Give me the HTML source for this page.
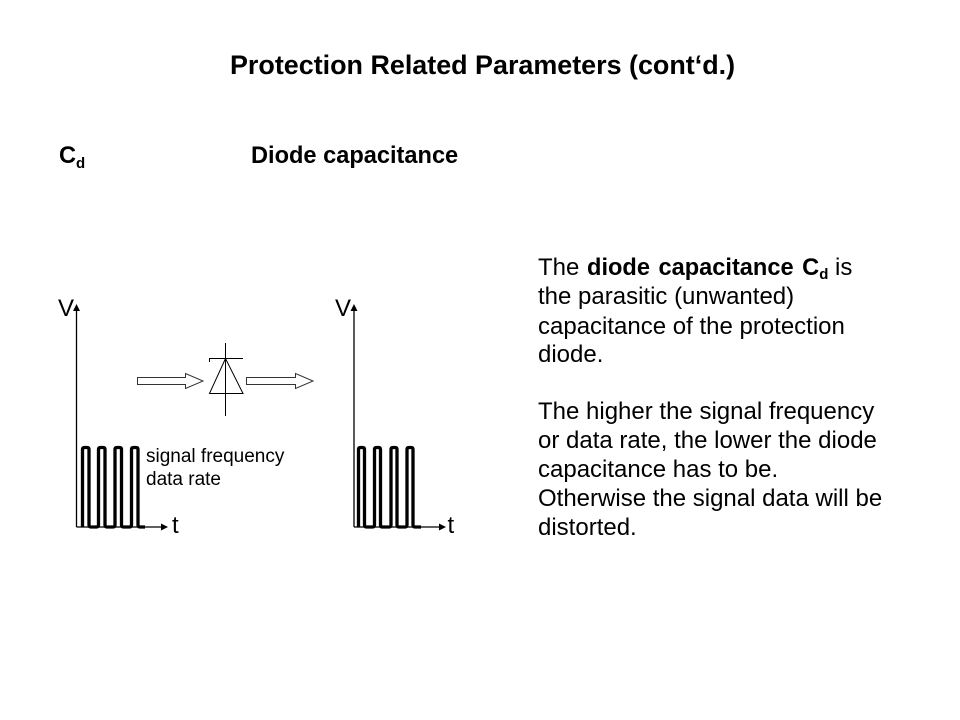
<!DOCTYPE html>
<html>
<head>
<meta charset="utf-8">
<style>
html,body{margin:0;padding:0;background:#fff;}
svg{display:block;}
text{font-family:"Liberation Sans",Arial,sans-serif;fill:#000;}
.b{font-weight:bold;}
.t{font-size:24px;}
</style>
</head>
<body>
<svg width="960" height="720" viewBox="0 0 960 720" xmlns="http://www.w3.org/2000/svg">
<rect width="960" height="720" fill="#fff"/>
<text x="230" y="74" class="b" font-size="26.9">Protection Related Parameters (cont‘d.)</text>
<text x="59" y="163" class="b" font-size="23.6">C<tspan font-size="15" dy="5">d</tspan></text>
<text x="251" y="163" class="b" font-size="23.6">Diode capacitance</text>

<g class="t">
<text x="538" y="275">The <tspan class="b" font-size="23.6" dx="1" word-spacing="2">diode capacitance C<tspan font-size="15" dy="4">d</tspan></tspan><tspan dy="-4"> is</tspan></text>
<text x="538" y="304">the parasitic (unwanted)</text>
<text x="538" y="334">capacitance of the protection</text>
<text x="538" y="362">diode.</text>
<text x="538" y="419">The higher the signal frequency</text>
<text x="538" y="448">or data rate, the lower the diode</text>
<text x="538" y="477">capacitance has to be.</text>
<text x="538" y="506">Otherwise the signal data will be</text>
<text x="538" y="535">distorted.</text>
</g>

<!-- left axes -->
<path d="M76.500 527V309M76.500 527H163" fill="none" stroke="#000" stroke-width="1.3"/>
<path d="M76.500 304L80 311H73Z M168 527L161 523.500V530.500Z" fill="#000"/>
<text x="58" y="316" font-size="24">V</text>
<text x="172" y="533" font-size="24">t</text>
<path d="M82.500 527V449.500Q82.500 447.500 84.500 447.500H87Q89 447.500 89 449.500V525Q89 527 91 527H96.500Q98.500 527 98.500 525V449.500Q98.500 447.500 100.500 447.500H103Q105 447.500 105 449.500V525Q105 527 107 527H113Q115 527 115 525V449.500Q115 447.500 117 447.500H119.500Q121.500 447.500 121.500 449.500V525Q121.500 527 123.500 527H129.500Q131.500 527 131.500 525V449.500Q131.500 447.500 133.500 447.500H136Q138 447.500 138 449.500V525Q138 527 140 527H145" fill="none" stroke="#000" stroke-width="3.3"/>
<text x="146" y="462" font-size="19">signal frequency</text>
<text x="146" y="485" font-size="19">data rate</text>

<!-- block arrows -->
<path d="M137.500 377.500H185.500V373.500L203 381L185.500 388.500V384.500H137.500Z" fill="#fff" stroke="#333" stroke-width="1"/>
<path d="M246.500 377.500H295.500V373.500L313 381L295.500 388.500V384.500H246.500Z" fill="#fff" stroke="#333" stroke-width="1"/>

<!-- diode -->
<path d="M225.500 343V416M209.500 362V358.500H243M225.500 358.500L209.500 393.500H243L225.500 358.500Z" fill="none" stroke="#000" stroke-width="1"/>

<!-- right axes -->
<path d="M354 527V309M354 527H441" fill="none" stroke="#000" stroke-width="1.3"/>
<path d="M354 304L357.500 311H350.500Z M446 527L439 523.500V530.500Z" fill="#000"/>
<text x="335" y="316" font-size="24">V</text>
<text x="447.500" y="533" font-size="24">t</text>
<path d="M358.500 527V449.500Q358.500 447.500 360.500 447.500H362.500Q364.500 447.500 364.500 449.500V525Q364.500 527 366.500 527H372.500Q374.500 527 374.500 525V449.500Q374.500 447.500 376.500 447.500H378.500Q380.500 447.500 380.500 449.500V525Q380.500 527 382.500 527H389Q391 527 391 525V449.500Q391 447.500 393 447.500H395Q397 447.500 397 449.500V525Q397 527 399 527H405Q407 527 407 525V449.500Q407 447.500 409 447.500H411Q413 447.500 413 449.500V525Q413 527 415 527H421" fill="none" stroke="#000" stroke-width="3.3"/>
</svg>
</body>
</html>
